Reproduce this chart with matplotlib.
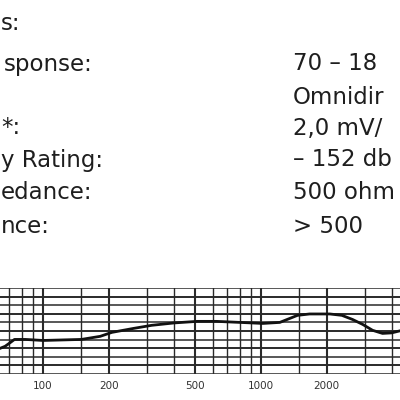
import matplotlib
matplotlib.use('Agg')
import matplotlib.pyplot as plt
from matplotlib.ticker import FixedLocator, NullFormatter

# ---- data ----
freq_hz = [63.5, 67, 71, 74, 83, 100, 150, 183, 207, 260, 315, 400, 510, 625,
           800, 1020, 1220, 1470, 1670, 2070, 2350, 2630, 2930, 3250, 3610, 3970, 4340]
level_db = [-15.1, -13.9, -11.6, -9.9, -9.9, -10.5, -9.9, -8.1, -5.8, -3.5, -1.7, -0.3, 0.6, 0.6,
            0.0, -0.6, 0.0, 4.1, 4.9, 4.9, 4.1, 1.7, -1.2, -4.6, -6.4, -6.1, -4.9]

major_freqs = [100, 200, 500, 1000, 2000]
major_labels = ['100', '200', '500', '1000', '2000']
minor_freqs = [70, 80, 90, 150, 300, 400, 600, 700, 800, 900, 1500, 3000, 4000]
level_lines = [-30, -25, -20, -15, -10, -5, 0, 5, 10, 15, 20]

spec_labels = ['s:', 'sponse:', '*:', 'y Rating:', 'edance:', 'nce:']
spec_values = ['70 – 18', 'Omnidir', '2,0 mV/', '– 152 db', '500 ohm', '> 500']

# ---- layout (pixels) ----
W = H = 400
fig = plt.figure(figsize=(4, 4), dpi=100)
fig.patch.set_facecolor('white')

def px(x, y):
    return x / W, 1 - y / H

txt_color = '#1e1e1e'
fs = 16.5
label_pos = [(1, 30), (4, 70.5), (1, 134.5), (1, 166.5), (1, 198.5), (1, 232.5)]
for s, (x, y) in zip(spec_labels, label_pos):
    fig.text(*px(x, y), s, ha='left', va='baseline', fontsize=fs, color=txt_color,
             family='DejaVu Sans')
val_y = [70.5, 103.5, 134.5, 166.5, 198.5, 232.5]
for s, y in zip(spec_values, val_y):
    fig.text(*px(293, y), s, ha='left', va='baseline', fontsize=fs, color=txt_color,
             family='DejaVu Sans')

# ---- chart ----
top, bottom = 288, 374
ax = fig.add_axes([0, 1 - bottom / H, 1, (bottom - top) / H])
ax.set_xscale('log')
ax.set_xlim(63.5, 4341)
ax.set_ylim(-30, 20)

grid_c = '#2a2a2a'
for f in major_freqs:
    ax.axvline(f, color=grid_c, lw=1.5, zorder=1)
for f in minor_freqs:
    ax.axvline(f, color=grid_c, lw=1.0, zorder=1)
for i, l in enumerate(level_lines):
    ax.axhline(l, color=grid_c, lw=1.4 if i % 2 else 1.1, zorder=1)

ax.plot(freq_hz, level_db, color='#111111', lw=2.0, zorder=3)

ax.xaxis.set_major_locator(FixedLocator(major_freqs))
ax.set_xticklabels(major_labels)
ax.xaxis.set_minor_locator(FixedLocator(minor_freqs))
ax.xaxis.set_minor_formatter(NullFormatter())
ax.tick_params(axis='x', which='both', length=0, pad=5, labelsize=7.5, colors='#333333')
ax.set_yticks([])
for sp in ax.spines.values():
    sp.set_visible(False)

fig.savefig('out.png', dpi=100, facecolor='white')
